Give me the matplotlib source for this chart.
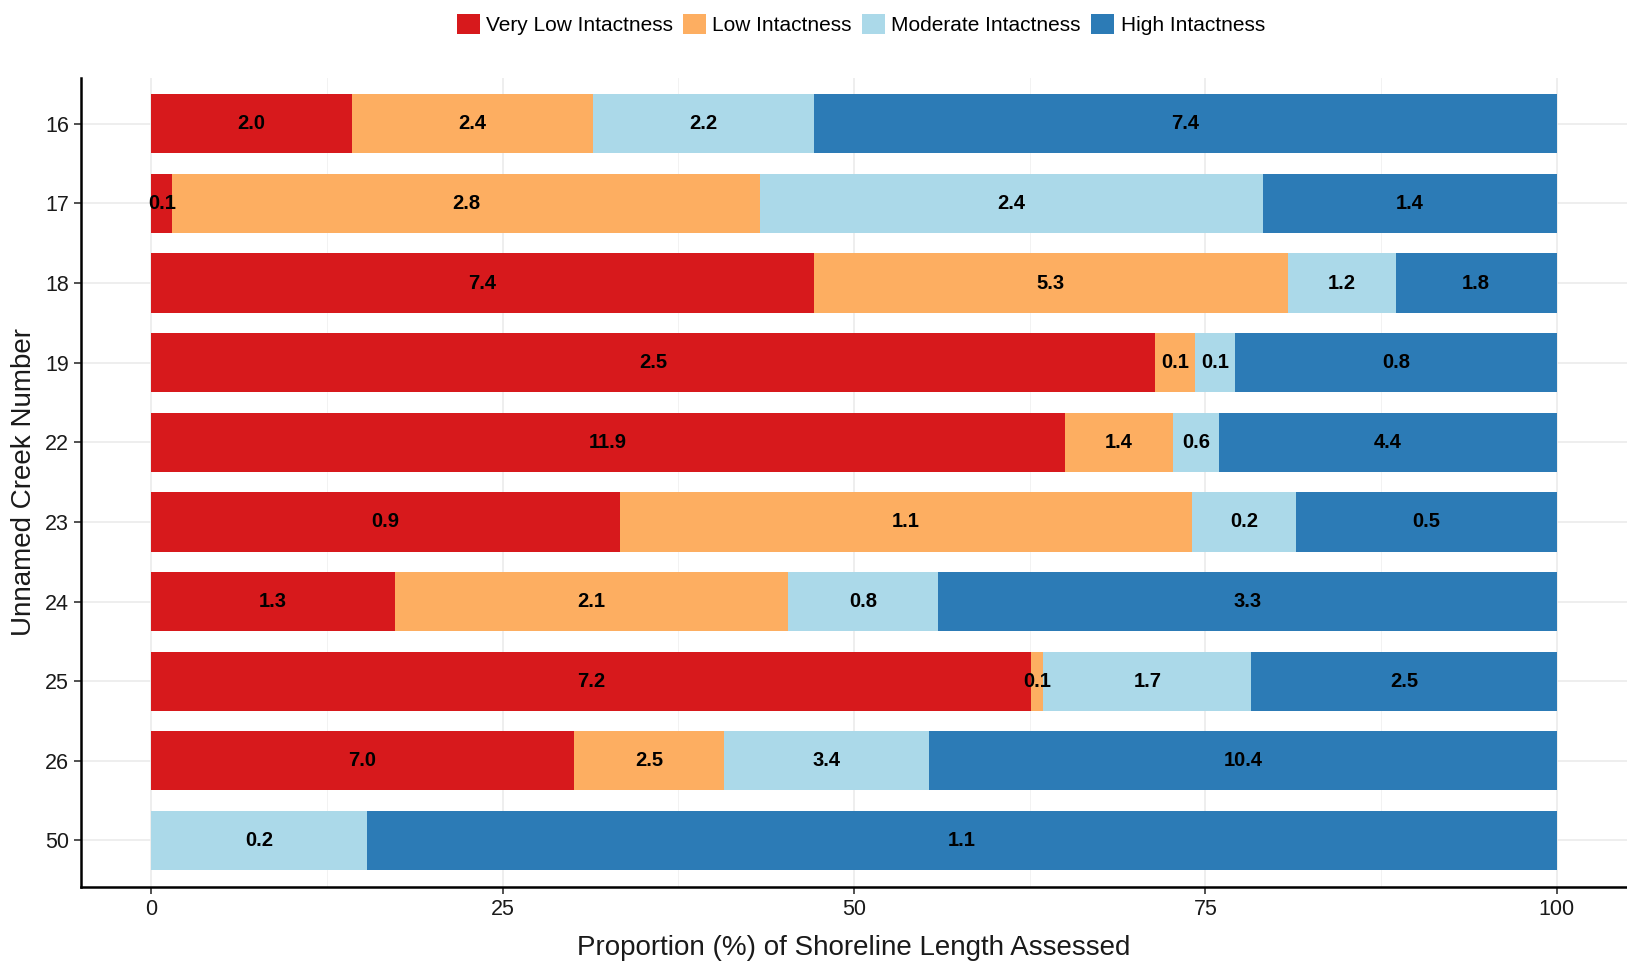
import numpy as np
import matplotlib
matplotlib.use("Agg")
from matplotlib import pyplot as plt
from matplotlib.patches import Patch
from matplotlib.ticker import MultipleLocator

plt.rcParams['font.family'] = ['Liberation Sans', 'DejaVu Sans']

# shoreline length per class (labels shown on bars)
creeks = ['16', '17', '18', '19', '22', '23', '24', '25', '26', '50']
very_low = [2.0, 0.1, 7.4, 2.5, 11.9, 0.9, 1.3, 7.2, 7.0, 0.0]
low = [2.4, 2.8, 5.3, 0.1, 1.4, 1.1, 2.1, 0.1, 2.5, 0.0]
moderate = [2.2, 2.4, 1.2, 0.1, 0.6, 0.2, 0.8, 1.7, 3.4, 0.2]
high = [7.4, 1.4, 1.8, 0.8, 4.4, 0.5, 3.3, 2.5, 10.4, 1.1]

classes = ['Very Low Intactness', 'Low Intactness', 'Moderate Intactness', 'High Intactness']
colors = ['#D7191C', '#FDAE61', '#ABD9E9', '#2C7BB6']

vals = np.array([very_low, low, moderate, high])
pct = vals / vals.sum(axis=0) * 100

fig = plt.figure(figsize=(16.27, 9.64), dpi=100)
ax = fig.add_axes([81/1627, 1 - 887/964, 1 - 81/1627, (887 - 78)/964])

y = np.arange(len(creeks))
left = np.zeros(len(creeks))
for k in range(4):
    ax.barh(y, pct[k], left=left, height=0.745, color=colors[k], zorder=2)
    for i in range(len(creeks)):
        if vals[k, i] > 0:
            ax.text(left[i] + pct[k, i] / 2, y[i], f"{vals[k, i]:.1f}", ha='center', va='center',
                    fontsize=14.5, fontweight='bold', color='black', zorder=3)
    left += pct[k]

ax.set_xlim(-5, 105)
ax.set_ylim(len(creeks) - 0.415, -0.575)
ax.set_yticks(y)
ax.set_yticklabels(creeks)
ax.xaxis.set_major_locator(MultipleLocator(25))
ax.xaxis.set_minor_locator(MultipleLocator(12.5))
ax.grid(axis='x', which='major', color='#EBEBEB', lw=1.2, zorder=0)
ax.grid(axis='x', which='minor', color='#F2F2F2', lw=0.7, zorder=0)
ax.grid(axis='y', which='major', color='#EBEBEB', lw=1.2, zorder=0)
ax.tick_params(axis='x', which='minor', length=0)
ax.tick_params(axis='both', which='major', labelsize=15.5, color='#333333', labelcolor='#1a1a1a',
               length=5, width=1.2)
for s in ['top', 'right']:
    ax.spines[s].set_visible(False)
for s in ['left', 'bottom']:
    ax.spines[s].set_linewidth(1.8)
    ax.spines[s].set_color('black')
ax.set_axisbelow(True)

ax.set_xlabel('Proportion (%) of Shoreline Length Assessed', fontsize=20, color='#1a1a1a', labelpad=11)
ax.set_ylabel('Unnamed Creek Number', fontsize=20, color='#1a1a1a', labelpad=6)

handles = [Patch(facecolor=c, edgecolor='none') for c in colors]
fig.legend(handles, classes, loc='upper center', bbox_to_anchor=(0.529, 1.0), ncol=4, frameon=False,
           fontsize=15, handlelength=1.1, handleheight=1.1, handletextpad=0.3, columnspacing=0.5,
           borderaxespad=0.25)

fig.savefig('out.png', dpi=100)
